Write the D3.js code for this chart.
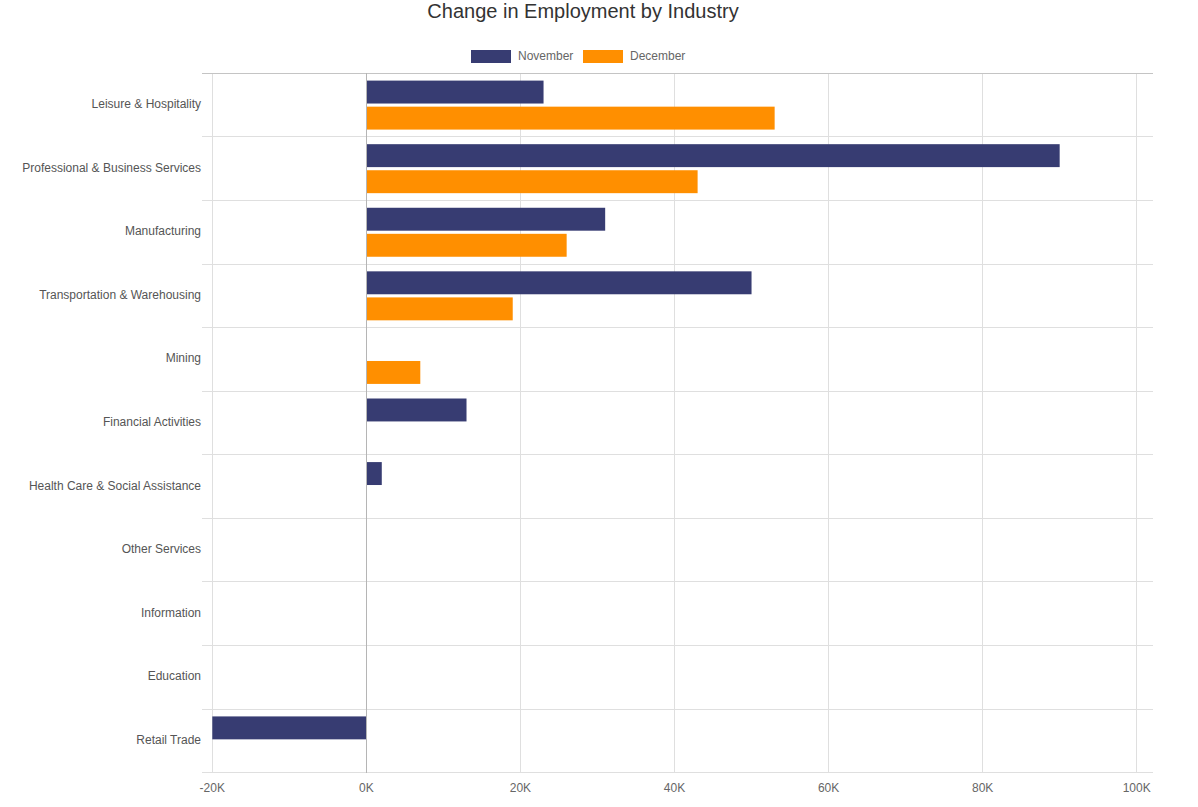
<!DOCTYPE html>
<html>
<head>
<meta charset="utf-8">
<script src="https://cdn.jsdelivr.net/npm/d3@7"></script>
<style>
  body { margin: 0; background: #fff; }
  text { font-family: Arial, "Liberation Sans", sans-serif; }
</style>
</head>
<body>
<svg id="chart" width="1198" height="807"></svg>
<script>
const categories = ["Leisure & Hospitality", "Professional & Business Services", "Manufacturing",
  "Transportation & Warehousing", "Mining", "Financial Activities", "Health Care & Social Assistance",
  "Other Services", "Information", "Education", "Retail Trade"];
const seriesNames = ["November", "December"];
const november = [23000, 90000, 31000, 50000, 0, 13000, 2000, 0, 0, 0, -20000];
const december = [53000, 43000, 26000, 19000, 7000, 0, 0, 0, 0, 0, 0];
const xTicks = [-20000, 0, 20000, 40000, 60000, 80000, 100000];
const colors = ["#373c72", "#ff8f00"];

(function () {
const svg = d3.select("#chart");
const pLeft = 212.3, pRight = 1153, pTop = 73.3, pBottom = 772.7;
const x = d3.scaleLinear().domain([-20000, 100000]).range([pLeft, pLeft + 924.4]);
const y = d3.scaleBand().domain(categories).range([pTop, pBottom]).paddingInner(0).paddingOuter(0);

// Title
svg.append("text").attr("x", 583).attr("y", 18).attr("text-anchor", "middle")
  .attr("font-size", 20).attr("fill", "#333").text("Change in Employment by Industry");

// Legend
const legendItems = [{name: seriesNames[0], x: 471, c: colors[0]}, {name: seriesNames[1], x: 583, c: colors[1]}];
legendItems.forEach(it => {
  svg.append("rect").attr("x", it.x).attr("y", 50).attr("width", 40).attr("height", 13).attr("fill", it.c);
  svg.append("text").attr("x", it.x + 47).attr("y", 59.5).attr("font-size", 12).attr("fill", "#666").text(it.name);
});

// Vertical grid lines
const g = svg.append("g");
g.selectAll("line.vg").data(xTicks).join("line")
  .attr("x1", d => x(d)).attr("x2", d => x(d)).attr("y1", pTop).attr("y2", pBottom)
  .attr("stroke", d => d === 0 ? "#b5b5b5" : "#dfdfdf").attr("shape-rendering", "crispEdges");

// Horizontal grid lines (category boundaries)
const bounds = categories.map(c => y(c)).concat([pBottom]);
g.selectAll("line.hg").data(bounds).join("line")
  .attr("x1", pLeft - 10).attr("x2", pRight).attr("y1", d => d).attr("y2", d => d)
  .attr("stroke", (d, i) => i === 0 ? "#c4c4c4" : "#dfdfdf").attr("shape-rendering", "crispEdges");

// Bars
const inner = d3.scaleBand().domain([0, 1]).range([0, y.bandwidth()]).paddingOuter(0.28).paddingInner(0.12);
const series = [november, december];
series.forEach((vals, si) => {
  svg.append("g").selectAll("rect").data(vals.map((v, i) => ({v, c: categories[i]})).filter(d => d.v !== 0))
    .join("rect")
    .attr("x", d => x(Math.min(0, d.v)))
    .attr("width", d => Math.abs(x(d.v) - x(0)))
    .attr("y", d => y(d.c) + inner(si))
    .attr("height", inner.bandwidth())
    .attr("fill", colors[si]);
});

// Zero line on top
svg.append("line").attr("x1", x(0)).attr("x2", x(0)).attr("y1", pTop).attr("y2", pBottom)
  .attr("stroke", "#b5b5b5").attr("shape-rendering", "crispEdges");

// Category labels
svg.append("g").selectAll("text").data(categories).join("text")
  .attr("x", 201).attr("y", d => y(d) + y.bandwidth() / 2 + 3)
  .attr("text-anchor", "end").attr("font-size", 12).attr("fill", "#555").text(d => d);

// X tick labels
const fmt = d => (d / 1000) + "K";
svg.append("g").selectAll("text").data(xTicks).join("text")
  .attr("x", d => x(d)).attr("y", 792)
  .attr("text-anchor", "middle").attr("font-size", 12).attr("fill", "#666").text(fmt);
})();
</script>
</body>
</html>
